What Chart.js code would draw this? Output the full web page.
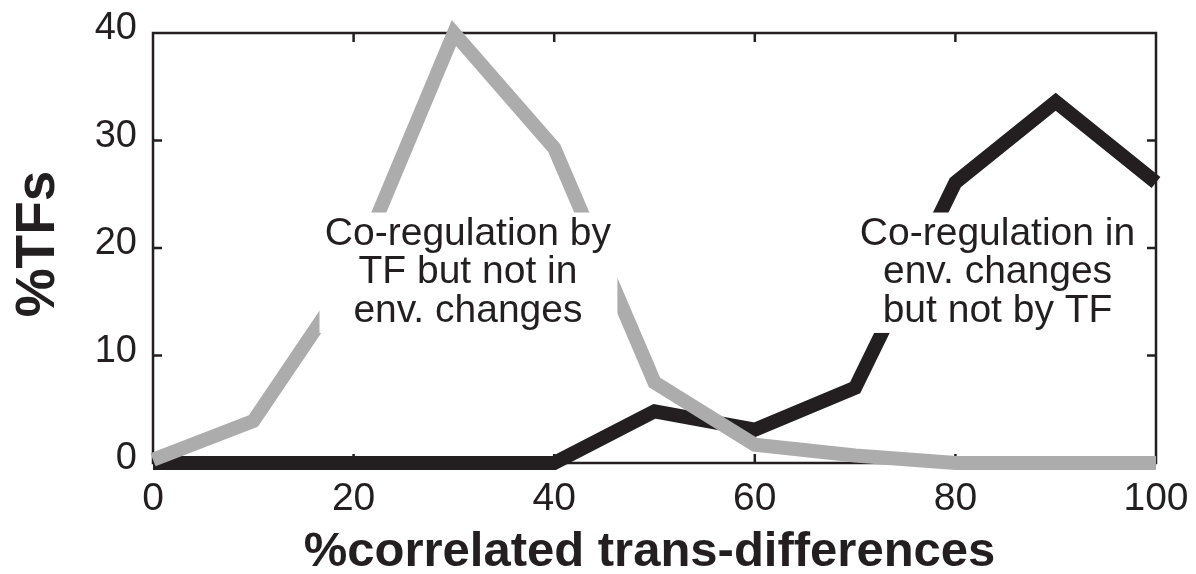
<!DOCTYPE html>
<html>
<head>
<meta charset="utf-8">
<title>%TFs vs %correlated trans-differences</title>
<script src="https://cdn.jsdelivr.net/npm/chart.js@4.4.1/dist/chart.umd.min.js"></script>
<style>
  html, body { margin: 0; padding: 0; background: #ffffff; }
  #wrap { width: 1196px; height: 574px; position: relative; }
</style>
</head>
<body>
<div id="wrap"><canvas id="chart" width="1196" height="574"></canvas></div>
<script>
// Bin centres on the x axis (% correlated trans-differences)
const binPercents = [0, 10, 20, 30, 40, 50, 60, 70, 80, 90, 100];
// Co-regulation by TF but not in environmental changes (grey)
const tfOnlyValues = [0.3, 3.9, 17.7, 40, 29.3, 7.5, 1.7, 0.7, 0, 0, 0];
// Co-regulation in environmental changes but not by TF (black)
const envOnlyValues = [0, 0, 0, 0, 0, 4.8, 3.1, 7.0, 26.1, 33.6, 26.1];

const xTickValues = [0, 20, 40, 60, 80, 100];
const yTickValues = [0, 10, 20, 30, 40];

const xTitle = '%correlated trans-differences';
const yTitle = '%TFs';
const tfOnlyLines = ['Co-regulation by', 'TF but not in', 'env. changes'];
const envOnlyLines = ['Co-regulation in', 'env. changes', 'but not by TF'];

const INK = '#231f20';
const GREY = '#acacac';
const FONT = '"Liberation Sans", Arial, Helvetica, sans-serif';

const toPoints = (vals) => binPercents.map((x, i) => ({ x: x, y: vals[i] }));

// Frame, inward ticks, annotation boxes and axis titles
const framePlugin = {
  id: 'frame',
  beforeDatasetsDraw(chart) {
    const { ctx, chartArea: a, scales: { x, y } } = chart;
    ctx.save();
    ctx.strokeStyle = INK;
    ctx.lineWidth = 2.5;
    ctx.strokeRect(a.left, a.top, a.right - a.left, a.bottom - a.top);
    const tl = 9;
    ctx.beginPath();
    xTickValues.slice(1, -1).forEach(v => {
      const px = x.getPixelForValue(v);
      ctx.moveTo(px, a.bottom); ctx.lineTo(px, a.bottom - tl);
      ctx.moveTo(px, a.top); ctx.lineTo(px, a.top + tl);
    });
    yTickValues.slice(1, -1).forEach(v => {
      const py = y.getPixelForValue(v);
      ctx.moveTo(a.left, py); ctx.lineTo(a.left + tl, py);
      ctx.moveTo(a.right, py); ctx.lineTo(a.right - tl, py);
    });
    ctx.stroke();
    ctx.restore();
  },
  afterDatasetsDraw(chart) {
    const { ctx, scales: { x, y } } = chart;
    const drawNote = (lines, cx, box) => {
      const l = x.getPixelForValue(box[0]), r = x.getPixelForValue(box[1]);
      const t = y.getPixelForValue(box[2]), b = y.getPixelForValue(box[3]);
      ctx.save();
      ctx.fillStyle = '#ffffff';
      ctx.fillRect(l, t, r - l, b - t);
      ctx.fillStyle = INK;
      ctx.font = '39px ' + FONT;
      ctx.textAlign = 'center';
      ctx.textBaseline = 'alphabetic';
      const px = x.getPixelForValue(cx);
      const base = y.getPixelForValue(20.3);
      lines.forEach((s, i) => ctx.fillText(s, px, base + i * 38.5));
      ctx.restore();
    };
    drawNote(tfOnlyLines, 31.4, [16.6, 46.3, 23.3, 12.1]);
    drawNote(envOnlyLines, 84.2, [70.0, 98.6, 23.3, 12.1]);
  },
  afterDraw(chart) {
    const { ctx, chartArea: a } = chart;
    ctx.save();
    ctx.fillStyle = INK;
    ctx.font = 'bold 49px ' + FONT;
    ctx.textAlign = 'center';
    ctx.textBaseline = 'alphabetic';
    ctx.fillText(xTitle, (a.left + a.right) / 2 - 5, 566);
    ctx.translate(54, 244);
    ctx.rotate(-Math.PI / 2);
    ctx.font = 'bold 55px ' + FONT;
    ctx.fillText(yTitle, 0, 0);
    ctx.restore();
  }
};

new Chart(document.getElementById('chart'), {
  type: 'line',
  data: {
    datasets: [
      {
        label: 'Co-regulation by TF but not in env. changes',
        data: toPoints(tfOnlyValues),
        borderColor: GREY,
        borderWidth: 14,
        clip: false,
        order: 0
      },
      {
        label: 'Co-regulation in env. changes but not by TF',
        data: toPoints(envOnlyValues),
        borderColor: INK,
        borderWidth: 14,
        clip: false,
        order: 1
      }
    ]
  },
  options: {
    responsive: false,
    animation: false,
    devicePixelRatio: 1,
    layout: { padding: { top: 33, right: 40, left: 0, bottom: 0 } },
    elements: {
      point: { radius: 0, hoverRadius: 0 },
      line: { tension: 0, borderJoinStyle: 'miter', borderCapStyle: 'butt', fill: false }
    },
    plugins: { legend: { display: false }, tooltip: { enabled: false } },
    scales: {
      x: {
        type: 'linear',
        min: 0, max: 100,
        afterFit(s) { s.height = 111; },
        afterBuildTicks(s) { s.ticks = xTickValues.map(v => ({ value: v })); },
        grid: { display: false },
        border: { display: false },
        ticks: {
          color: INK,
          font: { family: FONT, size: 39 },
          padding: 5,
          maxRotation: 0,
          autoSkip: false
        }
      },
      y: {
        type: 'linear',
        min: 0, max: 40,
        afterFit(s) { s.width = 153; },
        afterBuildTicks(s) { s.ticks = yTickValues.map(v => ({ value: v })); },
        grid: { display: false },
        border: { display: false },
        ticks: {
          color: INK,
          font: { family: FONT, size: 38 },
          padding: 8,
          labelOffset: -4
        }
      }
    }
  },
  plugins: [framePlugin]
});
</script>
</body>
</html>
